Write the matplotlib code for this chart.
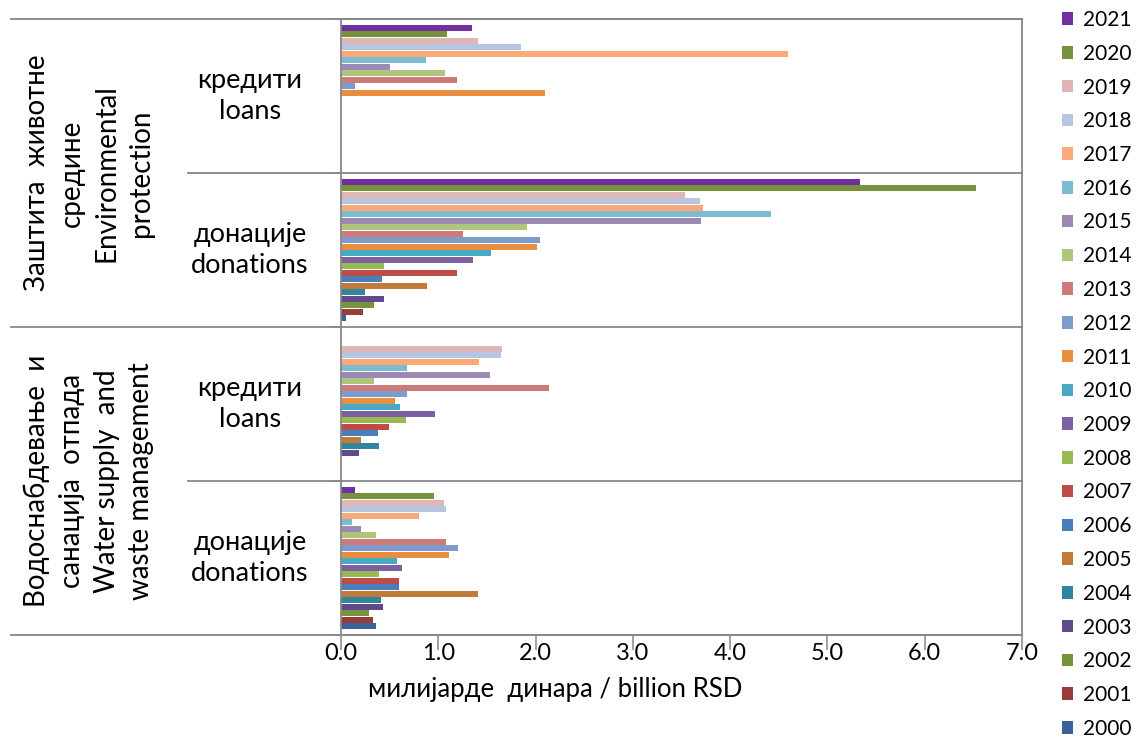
import matplotlib
matplotlib.use("Agg")
import matplotlib.pyplot as plt
from matplotlib.patches import Patch
import numpy as np

plt.rcParams['font.family'] = ['Lato', 'DejaVu Sans']

years = list(range(2000, 2022))
colors = ['#3A6398', '#963D3B', '#77933C', '#5F4B8B', '#31859C', '#C17A3A',
          '#4A7EBB', '#BE4B48', '#98B954', '#7D60A0', '#46AAC5', '#E98D3E',
          '#7E9CCB', '#CC7B7A', '#ADC67C', '#9D8AB4', '#7CBBD0', '#F8AB78',
          '#B7C5E0', '#DEB6B6', '#76923C', '#7030A0']

# values in billion RSD, 2000..2021
env_loans = [0, 0, 0, 0, 0, 0, 0, 0, 0, 0, 0,
             2.10, 0.14, 1.19, 1.07, 0.50, 0.87, 4.59, 1.85, 1.41, 1.09, 1.35]
env_donations = [0.05, 0.23, 0.34, 0.44, 0.25, 0.88, 0.42, 1.19, 0.44, 1.36, 1.54,
                 2.01, 2.05, 1.25, 1.91, 3.70, 4.42, 3.72, 3.69, 3.54, 6.53, 5.33]
water_loans = [0, 0, 0, 0.19, 0.39, 0.21, 0.38, 0.49, 0.67, 0.97, 0.61,
               0.56, 0.68, 2.14, 0.34, 1.53, 0.68, 1.42, 1.64, 1.66, 0, 0]
water_donations = [0.36, 0.33, 0.29, 0.43, 0.41, 1.41, 0.60, 0.60, 0.39, 0.63, 0.58,
                   1.11, 1.20, 1.08, 0.36, 0.21, 0.11, 0.80, 1.08, 1.06, 0.96, 0.14]

groups = [env_loans, env_donations, water_loans, water_donations]
inner_labels = ['кредити\nloans', 'донације\ndonations', 'кредити\nloans', 'донације\ndonations']
outer_labels = ['Заштита  животне\nсредине\nEnvironmental\nprotection',
                'Водоснабдевање  и\nсанација  отпада\nWater supply  and\nwaste management']
x_ticks = [0.0, 1.0, 2.0, 3.0, 4.0, 5.0, 6.0, 7.0]
x_label = 'милијарде  динара / billion RSD'

W, H = 1139, 744
fig = plt.figure(figsize=(W / 100, H / 100), dpi=100)
L, R, T, B = 341, 1022, 19, 635
ax = fig.add_axes([L / W, 1 - B / H, (R - L) / W, (B - T) / H])

grey = '#888888'
n = len(years)
fill = 0.93
pitch = fill / n
off = (1 - fill) / 2
for g, vals in enumerate(groups):
    for i, (yr, v) in enumerate(zip(years, vals)):
        k = n - 1 - i  # 2021 on top
        yc = g + off + (k + 0.5) * pitch
        ax.barh(yc, v, height=pitch * 0.88, color=colors[i], edgecolor='none')

ax.set_xlim(0, 7)
ax.set_ylim(4, 0)
ax.set_xticks(x_ticks)
ax.set_xticklabels([f'{t:.1f}' for t in x_ticks], fontsize=17)
ax.set_yticks([0, 1, 2, 3, 4])
ax.set_yticklabels([])
ax.tick_params(axis='x', length=11, width=1.1, color=grey, pad=-5)
ax.tick_params(axis='y', length=8, width=1.1, color=grey)
for s in ax.spines.values():
    s.set_color(grey)
    s.set_linewidth(1.3)

# category divider lines
tr = ax.get_yaxis_transform()
x_outer = (11 - L) / (R - L)
x_inner = (188 - L) / (R - L)
for yv in [0, 2, 4]:
    ax.plot([x_outer, 1], [yv, yv], color=grey, lw=1.3, transform=tr, clip_on=False)
for yv in [1, 3]:
    ax.plot([x_inner, 1], [yv, yv], color=grey, lw=1.3, transform=tr, clip_on=False)

# inner labels
x_in = (250 - L) / (R - L)
for g, lab in enumerate(inner_labels):
    ax.text(x_in, g + 0.5, lab, transform=tr, ha='center', va='center',
            fontsize=19.5, linespacing=1.3, clip_on=False)
# outer labels
x_out = (89 - L) / (R - L)
for j, lab in enumerate(outer_labels):
    ax.text(x_out, 2 * j + 1, lab, transform=tr, ha='center', va='center',
            rotation=90, fontsize=20, linespacing=1.42, clip_on=False,
            multialignment='center')

fig.text(555 / W, 1 - 690 / H, x_label, ha='center', va='center', fontsize=18.5)

handles = [Patch(facecolor=colors[i], edgecolor='none', label=str(years[i]))
           for i in range(n - 1, -1, -1)]
fig.legend(handles=handles, loc='upper left', bbox_to_anchor=(1062 / W, 1 - 10 / H),
           frameon=False, fontsize=15, handlelength=0.55, handleheight=0.55,
           handletextpad=0.45, labelspacing=0.66, borderpad=0, borderaxespad=0)

fig.savefig('out.png', dpi=100)
